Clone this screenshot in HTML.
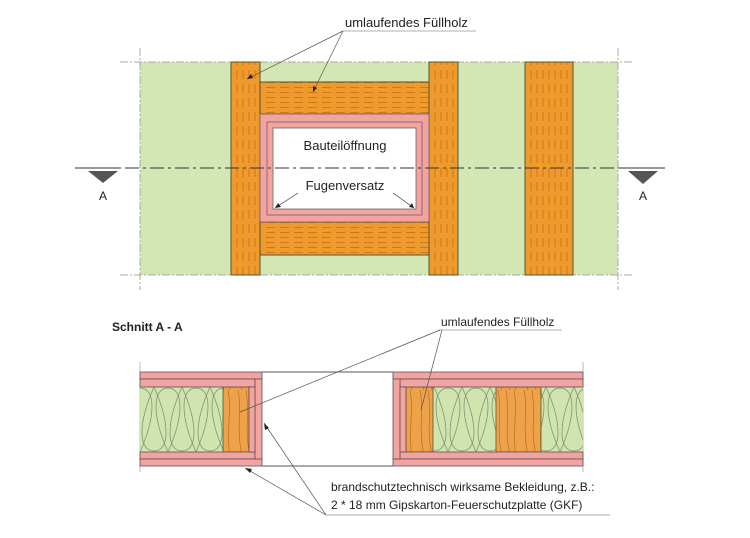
<!DOCTYPE html>
<html><head><meta charset="utf-8"><style>
html,body{margin:0;padding:0;background:#fff;width:750px;height:538px;overflow:hidden}
text{font-family:"Liberation Sans",sans-serif;fill:#222}
</style></head><body>
<svg width="750" height="538" viewBox="0 0 750 538" xmlns="http://www.w3.org/2000/svg">
<defs>
<pattern id="wv" width="6" height="14" patternUnits="userSpaceOnUse">
<rect width="6" height="14" fill="#ef9a2c"/><line x1="3" y1="0" x2="3" y2="9" stroke="#c96f12" stroke-width="0.8"/>
</pattern>
<pattern id="wh" width="14" height="5" patternUnits="userSpaceOnUse">
<rect width="14" height="5" fill="#ef9a2c"/><line x1="0" y1="2.5" x2="9" y2="2.5" stroke="#c96f12" stroke-width="0.8"/>
</pattern>
<pattern id="ins" x="140" y="387" width="28" height="65" patternUnits="userSpaceOnUse">
<rect width="28" height="65" fill="#cfe4ae"/>
<path d="M14,0 C-2,36 -2,64 14,64 C30,64 30,36 14,0" fill="none" stroke="#7a8a6a" stroke-width="0.7"/>
<path d="M0,65 C-16,29 -16,1 0,1 C16,1 16,29 0,65 M28,65 C12,29 12,1 28,1 C44,1 44,29 28,65" fill="none" stroke="#7a8a6a" stroke-width="0.7"/>
</pattern>
<pattern id="wood" width="26" height="65" patternUnits="userSpaceOnUse">
<rect width="26" height="65" fill="#eea24a"/>
<path d="M4,0 C8,20 2,40 8,65 M12,0 C16,22 10,42 16,65 M20,0 C24,20 18,44 22,65" fill="none" stroke="#b4641a" stroke-width="0.6"/>
</pattern>
</defs>

<!-- TOP VIEW -->
<rect x="140" y="62" width="478" height="213" fill="#d3e6b4"/>
<line x1="120" y1="62" x2="632" y2="62" stroke="#aaa" stroke-dasharray="8,2,2,2"/>
<line x1="120" y1="275" x2="632" y2="275" stroke="#aaa" stroke-dasharray="8,2,2,2"/>
<line x1="140" y1="48" x2="140" y2="290" stroke="#aaa" stroke-dasharray="8,2,2,2"/>
<line x1="618" y1="48" x2="618" y2="290" stroke="#aaa" stroke-dasharray="8,2,2,2"/>
<rect x="260" y="82" width="169" height="32" fill="url(#wh)" stroke="#553" stroke-width="1"/>
<rect x="260" y="222" width="169" height="33" fill="url(#wh)" stroke="#553" stroke-width="1"/>
<rect x="231" y="62" width="29" height="213" fill="url(#wv)" stroke="#553" stroke-width="1"/>
<rect x="429" y="62" width="29" height="213" fill="url(#wv)" stroke="#553" stroke-width="1"/>
<rect x="525" y="62" width="48" height="213" fill="url(#wv)" stroke="#553" stroke-width="1"/>
<rect x="260" y="114" width="169" height="108" fill="#f4a3a0" stroke="#666" stroke-width="0.8"/>
<rect x="267" y="122" width="155" height="93" fill="#f4a3a0" stroke="#666" stroke-width="0.8"/>
<rect x="273" y="128" width="143" height="81" fill="#fff" stroke="#666" stroke-width="0.8"/>
<line x1="100" y1="168" x2="640" y2="168" stroke="#333" stroke-width="1" stroke-dasharray="14,4,3,4"/>
<line x1="75" y1="168" x2="120" y2="168" stroke="#333"/>
<polygon points="88,171 118,171 103,183" fill="#555"/>
<text x="103" y="200" font-size="12" text-anchor="middle">A</text>
<line x1="620" y1="168" x2="665" y2="168" stroke="#333"/>
<polygon points="628,171 658,171 643,184" fill="#555"/>
<text x="643" y="200" font-size="12" text-anchor="middle">A</text>
<text x="345" y="150" font-size="13" text-anchor="middle">Bauteilöffnung</text>
<text x="345" y="190" font-size="13" text-anchor="middle">Fugenversatz</text>
<path d="M298,193 L275,208 M393,193 L414,208" stroke="#333" stroke-width="0.7" fill="none"/>
<polygon points="275,208 278,203 281,207" fill="#222"/><polygon points="414,208 409,207 412,203" fill="#222"/>
<text x="345" y="27" font-size="13">umlaufendes Füllholz</text>
<line x1="343" y1="31" x2="476" y2="31" stroke="#999" stroke-width="0.8"/>
<path d="M343,31 L247,79 M343,31 L313,92" stroke="#555" stroke-width="0.7" fill="none"/>
<polygon points="247,79 251,74 253,78" fill="#222"/><polygon points="313,92 313,86 317,88" fill="#222"/>

<!-- SECTION -->
<text x="112" y="331" font-size="12" font-weight="bold">Schnitt A - A</text>
<line x1="140" y1="362" x2="140" y2="472" stroke="#bbb"/>
<line x1="583" y1="362" x2="583" y2="472" stroke="#bbb"/>
<rect x="140" y="387" width="83" height="65" fill="url(#ins)"/>
<rect x="223" y="387" width="26" height="65" fill="url(#wood)" stroke="#553" stroke-width="0.8"/>
<rect x="140" y="372" width="122" height="7" fill="#f4a3a0" stroke="#555" stroke-width="0.8"/>
<rect x="140" y="379" width="115" height="8" fill="#f4a3a0" stroke="#555" stroke-width="0.8"/>
<rect x="140" y="452" width="115" height="7" fill="#f4a3a0" stroke="#555" stroke-width="0.8"/>
<rect x="140" y="459" width="122" height="7" fill="#f4a3a0" stroke="#555" stroke-width="0.8"/>
<rect x="255" y="379" width="7" height="80" fill="#f4a3a0" stroke="#555" stroke-width="0.8"/>
<rect x="249" y="387" width="6" height="65" fill="#f4a3a0" stroke="#555" stroke-width="0.8"/>
<line x1="262" y1="372" x2="393" y2="372" stroke="#555"/>
<line x1="262" y1="466" x2="393" y2="466" stroke="#555"/>
<rect x="433" y="387" width="63" height="65" fill="url(#ins)"/>
<rect x="541" y="387" width="42" height="65" fill="url(#ins)"/>
<rect x="406" y="387" width="27" height="65" fill="url(#wood)" stroke="#553" stroke-width="0.8"/>
<rect x="496" y="387" width="45" height="65" fill="url(#wood)" stroke="#553" stroke-width="0.8"/>
<rect x="393" y="372" width="190" height="7" fill="#f4a3a0" stroke="#555" stroke-width="0.8"/>
<rect x="400" y="379" width="183" height="8" fill="#f4a3a0" stroke="#555" stroke-width="0.8"/>
<rect x="400" y="452" width="183" height="7" fill="#f4a3a0" stroke="#555" stroke-width="0.8"/>
<rect x="393" y="459" width="190" height="7" fill="#f4a3a0" stroke="#555" stroke-width="0.8"/>
<rect x="393" y="379" width="7" height="80" fill="#f4a3a0" stroke="#555" stroke-width="0.8"/>
<rect x="400" y="387" width="6" height="65" fill="#f4a3a0" stroke="#555" stroke-width="0.8"/>
<text x="441" y="326" font-size="12">umlaufendes Füllholz</text>
<line x1="438" y1="330" x2="562" y2="330" stroke="#999" stroke-width="0.8"/>
<path d="M440,330 L240,412 M442,330 L421,410" stroke="#555" stroke-width="0.7" fill="none"/>
<text x="331" y="491" font-size="12">brandschutztechnisch wirksame Bekleidung, z.B.:</text>
<text x="331" y="509" font-size="12">2 * 18 mm Gipskarton-Feuerschutzplatte (GKF)</text>
<line x1="326" y1="515" x2="610" y2="515" stroke="#999" stroke-width="0.8"/>
<path d="M326,515 L264,423 M326,515 L245,468" stroke="#555" stroke-width="0.7" fill="none"/>
<polygon points="264,423 265,430 269,428" fill="#222"/><polygon points="245,468 250,473 252,469" fill="#222"/>
</svg>
</body></html>
